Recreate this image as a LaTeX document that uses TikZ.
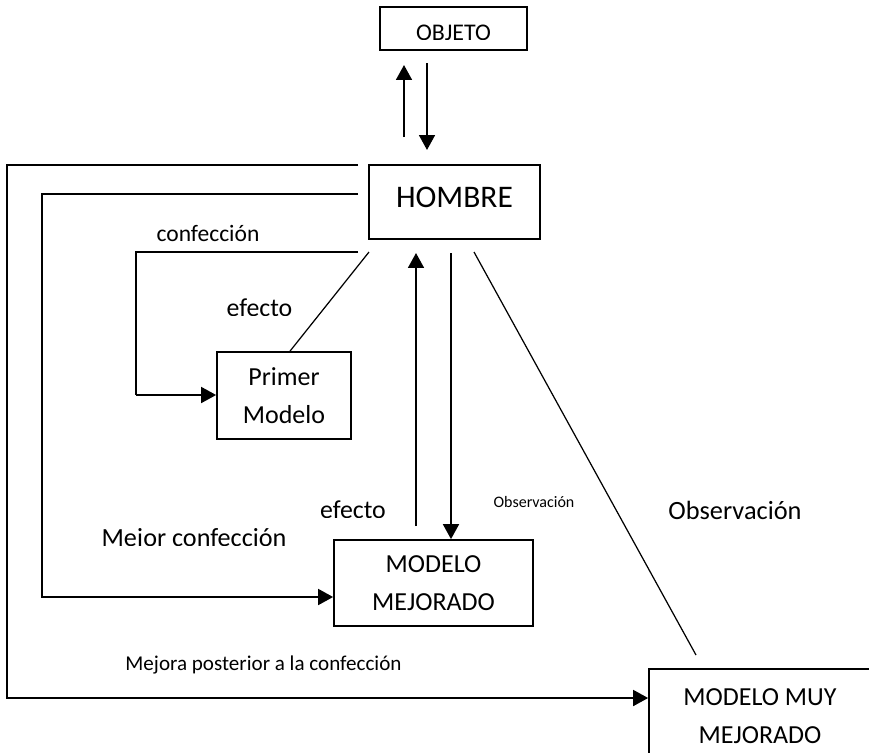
\documentclass[tikz,border=0pt]{standalone}
\usepackage{fontspec}
\setmainfont{Carlito}
\usetikzlibrary{arrows.meta, calc}

\begin{document}
\begin{tikzpicture}[
  x=0.02cm, y=-0.02cm,
  box/.style={draw, line width=1pt, align=center, inner sep=0pt,
              font=\fontsize{14.8}{21.5}\selectfont},
  lbl/.style={anchor=base, inner sep=0pt,
              font=\fontsize{14.8}{18}\selectfont},
  arrow/.style={-{Triangle[length=8.5pt, width=9pt]}, line width=1.2pt},
  thinline/.style={line width=0.7pt},
]
  \useasboundingbox (0,0) rectangle (869,752);
  \clip (0,0) rectangle (869,752);

  % Boxes
  \node[box, minimum width=2.94cm, minimum height=0.86cm] (obj)
    at (453.5,28.5) {};
  \node[box, minimum width=3.42cm, minimum height=1.48cm, text depth=0.2cm,
        font=\fontsize{17.9}{21}\selectfont] (hombre)
    at (454.5,202) {HOMBRE};
  \node[box, minimum width=2.68cm, minimum height=1.74cm] (primer)
    at (284,395.5) {Primer\\Modelo};
  \node[box, minimum width=3.98cm, minimum height=1.72cm] (mejorado)
    at (433.5,583) {MODELO\\MEJORADO};
  \node[box, minimum width=4.44cm, minimum height=1.9cm] (muy)
    at (760,716.5) {MODELO MUY\\MEJORADO};

  % Hombre <-> objeto
  \coordinate (objup0) at (404,137);
  \coordinate (objup1) at (404,65);
  \coordinate (objdn0) at (427,63);
  \coordinate (objdn1) at (427,150);
  \draw[arrow] (objup0) -- (objup1);
  \draw[arrow] (objdn0) -- (objdn1);

  % Outer loops
  \coordinate (outer0) at (358,165);
  \coordinate (outer1) at (7,698);
  \draw[arrow] (outer0) -| (outer1) -- (outer1 -| muy.west);
  \coordinate (mid0) at (358,194);
  \coordinate (mid1) at (42,597);
  \draw[arrow] (mid0) -| (mid1) -- (mid1 -| mejorado.west);
  \coordinate (conf0) at (358,252);
  \coordinate (conf1) at (136,395);
  \draw[thinline] (conf0) -| (conf1);
  \draw[arrow] (conf1) -- (conf1 -| primer.west);

  % Efecto / observacion
  \coordinate (ef0) at (369,252);
  \draw[thinline] (ef0) -- ([xshift=0.12cm]primer.north);
  \coordinate (mup0) at (416,526);
  \coordinate (mup1) at (416,253);
  \draw[arrow] (mup0) -- (mup1);
  \coordinate (mdn0) at (451,253);
  \draw[arrow] (mdn0) -- (mdn0 |- mejorado.north);
  \coordinate (obs0) at (474,252);
  \coordinate (obs1) at (696,655);
  \draw[thinline] (obs0) -- (obs1);

  % Labels
  \node[lbl, font=\fontsize{13.4}{16}\selectfont] (lconf)
    at (208,241) {confección};
  \node[lbl, font=\fontsize{12}{14}\selectfont] (lmejora)
    at (263.5,670.5) {Mejora posterior a la confección};
  \node[lbl, font=\fontsize{9.1}{11}\selectfont] (lobs1)
    at (534,507.5) {Observación};
  \node[lbl, font=\fontsize{15}{18}\selectfont] (lobs2)
    at (735,519) {Observación};
  % cut-off texts
  \begin{scope}
    \clip (390,10) rectangle (520,39) (215,290) rectangle (305,315)
      (305,490) rectangle (405,517) (85,515) rectangle (305,545);
    \node[lbl, font=\fontsize{13.6}{16}\selectfont] (lobj)
      at (453.5,40.5) {OBJETO};
    \node[lbl, font=\fontsize{14.7}{17}\selectfont] (lefecto1)
      at (259.5,316) {efecto};
    \node[lbl, font=\fontsize{14.7}{17}\selectfont] (lefecto2)
      at (353,518) {efecto};
    \node[lbl, font=\fontsize{14.9}{18}\selectfont] (lmejor)
      at (194,546) {Mejor confección};
  \end{scope}
\end{tikzpicture}
\end{document}
